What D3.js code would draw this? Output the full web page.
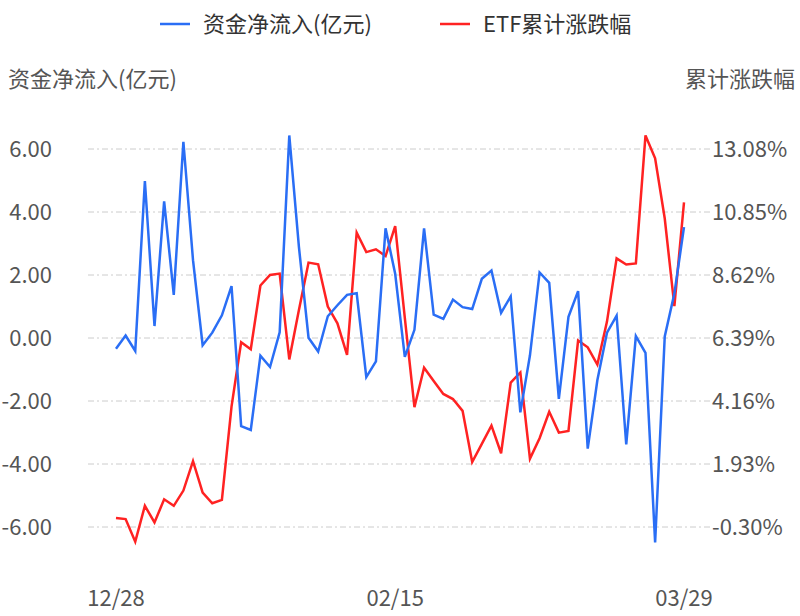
<!DOCTYPE html>
<html><head><meta charset="utf-8">
<script src="https://cdn.jsdelivr.net/npm/d3@7"></script>
<style>body{margin:0;background:#fff}text{font-family:"Noto Sans CJK SC","Noto Sans",sans-serif}</style>
</head><body><svg id="c" width="800" height="616"></svg>
<script>
const flow=[-0.34,0.08,-0.41,4.98,0.38,4.34,1.37,6.23,2.47,-0.23,0.17,0.72,1.65,-2.80,-2.92,-0.56,-0.92,0.18,6.43,2.89,0.01,-0.43,0.69,1.04,1.37,1.42,-1.24,-0.74,3.48,2.04,-0.60,0.26,3.48,0.74,0.61,1.22,0.98,0.92,1.88,2.14,0.80,1.32,-2.36,-0.55,2.08,1.75,-1.93,0.67,1.49,-3.51,-1.34,0.17,0.71,-3.38,0.06,-0.47,-6.49,0.05,1.41,3.52];
const cum=[0.02,-0.02,-0.82,0.45,-0.14,0.68,0.45,0.99,2.03,0.92,0.54,0.66,3.96,6.24,5.99,8.25,8.62,8.67,5.63,7.38,9.06,9.00,7.50,6.91,5.79,10.12,9.43,9.53,9.29,10.35,7.10,3.94,5.34,4.87,4.41,4.23,3.81,2.00,2.64,3.29,2.31,4.81,5.17,2.12,2.84,3.78,3.04,3.10,6.30,6.06,5.45,6.97,9.21,8.99,9.03,13.56,12.75,10.62,7.52,11.19];
const xTickIdx=[0,29,59];
const xTickLabels=["12/28","02/15","03/29"];
const leftTicks=[-6,-4,-2,0,2,4,6];
const rightTicks=[-0.30,1.93,4.16,6.39,8.62,10.85,13.08];
const svg=d3.select("#c");
const x=d3.scaleLinear().domain([0,flow.length-1]).range([116,684]);
const yl=d3.scaleLinear().domain([-6,6]).range([527,149]);
const yr=d3.scaleLinear().domain([-0.30,13.08]).range([527,149]);
const fs=22;
svg.selectAll(".g").data(leftTicks).enter().append("line")
 .attr("x1",88).attr("x2",712).attr("y1",d=>yl(d)).attr("y2",d=>yl(d))
 .attr("stroke","#ccc").attr("stroke-dasharray","6,3,2,3");
svg.selectAll(".lt").data(leftTicks).enter().append("text")
 .attr("x",52).attr("y",d=>yl(d)+8).attr("text-anchor","end").attr("font-size",fs).attr("fill","#555").text(d=>d.toFixed(2));
svg.selectAll(".rt").data(rightTicks).enter().append("text")
 .attr("x",712).attr("y",d=>yr(d)+8).attr("font-size",fs).attr("fill","#555").text(d=>d.toFixed(2)+"%");
svg.selectAll(".xt").data(xTickIdx).enter().append("text")
 .attr("x",d=>x(d)).attr("y",606).attr("text-anchor","middle").attr("font-size",fs).attr("fill","#555").text((d,i)=>xTickLabels[i]);
svg.append("text").attr("x",8).attr("y",87).attr("font-size",fs).attr("fill","#555").text("资金净流入(亿元)");
svg.append("text").attr("x",795).attr("y",87).attr("text-anchor","end").attr("font-size",fs).attr("fill","#555").text("累计涨跌幅");
const line=(s)=>d3.line().x((d,i)=>x(i)).y(d=>s(d));
svg.append("path").datum(cum).attr("d",line(yr)).attr("fill","none").attr("stroke","#f22").attr("stroke-width",2.5);
svg.append("path").datum(flow).attr("d",line(yl)).attr("fill","none").attr("stroke","#2a6ef5").attr("stroke-width",2.5);
const leg=[["资金净流入(亿元)","#2a6ef5",160],["ETF累计涨跌幅","#f22",440]];
leg.forEach(([t,c,lx])=>{
 svg.append("line").attr("x1",lx).attr("x2",lx+30).attr("y1",24).attr("y2",24).attr("stroke",c).attr("stroke-width",2.5);
 svg.append("text").attr("x",lx+43).attr("y",32).attr("font-size",fs).attr("fill","#333").text(t);
});
</script></body></html>
